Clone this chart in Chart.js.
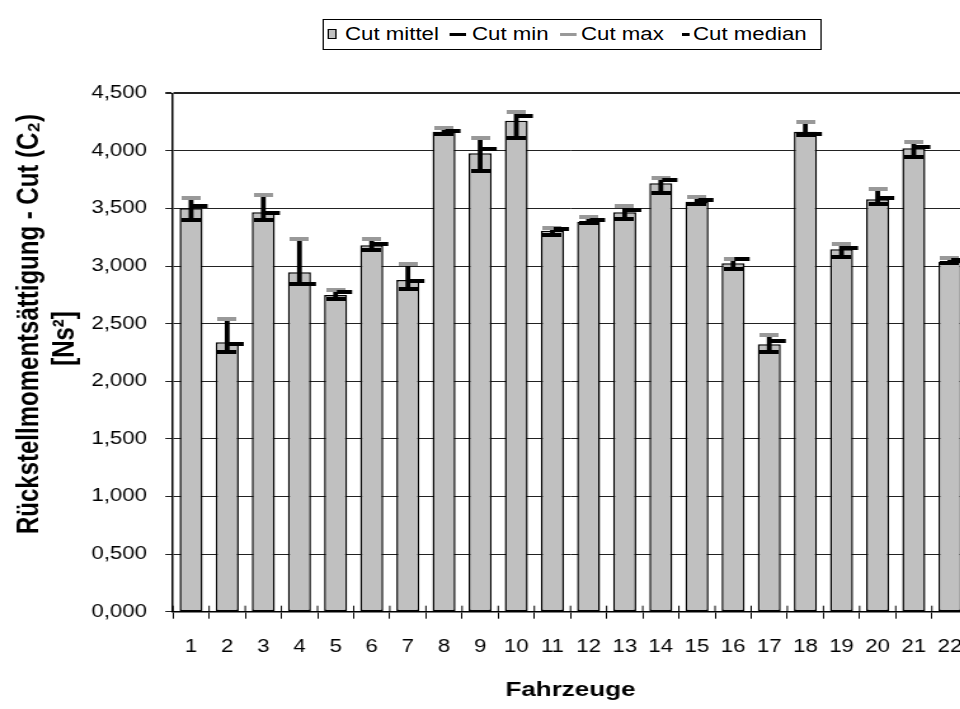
<!DOCTYPE html>
<html><head><meta charset="utf-8">
<script src="https://cdn.jsdelivr.net/npm/chart.js@4.4.0/dist/chart.umd.min.js"></script>
<style>
html,body{margin:0;padding:0;background:#fff;overflow:hidden;width:960px;height:709px;}
#wrap{position:absolute;left:0;top:0;width:790px;height:709px;transform:scale(1.27,1);transform-origin:0 0;}
#c{position:absolute;left:0;top:0;}
.lgt{position:absolute;font:17.5px "Liberation Sans",Arial,sans-serif;color:#000;line-height:20px;height:20px;white-space:nowrap;}
.lgm{position:absolute;box-sizing:border-box;}
#lgbox{position:absolute;box-sizing:border-box;border:1px solid #000;background:#fff;}
</style></head><body>
<div id="wrap">
<canvas id="c" width="790" height="709"></canvas>
<div id="lgbox"></div>
</div>
<script>
// ---- data ----
const categories = ['1','2','3','4','5','6','7','8','9','10','11','12','13','14','15','16','17','18','19','20','21','22'];
const seriesNames = ['Cut mittel','Cut min','Cut max','Cut median'];
const cutMittel = [3.502, 2.338, 3.467, 2.946, 2.749, 3.181, 2.879, 4.167, 3.979, 4.262, 3.307, 3.385, 3.467, 3.719, 3.559, 3.024, 2.321, 4.167, 3.146, 3.580, 4.023, 3.038];
const cutMin    = [3.398, 2.252, 3.398, 2.842, 2.712, 3.137, 2.804, 4.144, 3.828, 4.109, 3.267, 3.371, 3.409, 3.632, 3.539, 2.977, 2.255, 4.140, 3.079, 3.539, 3.950, 3.024];
const cutMax    = [3.589, 2.538, 3.617, 3.235, 2.792, 3.235, 3.016, 4.196, 4.109, 4.335, 3.333, 3.429, 3.522, 3.762, 3.603, 3.062, 2.402, 4.248, 3.189, 3.669, 4.077, 3.067];
const cutMedian = [3.522, 2.321, 3.458, 2.842, 2.775, 3.189, 2.871, 4.175, 4.016, 4.306, 3.319, 3.397, 3.490, 3.747, 3.574, 3.062, 2.350, 4.147, 3.157, 3.591, 4.031, 3.053];
const yTicks = [0, 0.5, 1, 1.5, 2, 2.5, 3, 3.5, 4, 4.5];
const xTitle = 'Fahrzeuge';
const yTitleLines = ['Rückstellmomentsättigung - Cut (C\u2082)', '[Ns\u00B2]'];

const FONT = '"Liberation Sans", Arial, sans-serif';
const cutRange = categories.map((_, i) => [cutMin[i], cutMax[i]]);

function dashImg(w, h, x0, x1, color) {
  const c = document.createElement('canvas');
  c.width = w; c.height = h;
  const g = c.getContext('2d');
  g.fillStyle = color;
  g.fillRect(x0, 0, x1 - x0, h);
  return c;
}
const minImg = dashImg(15, 4, 0, 15, '#000');
const maxImg = dashImg(15, 4, 0, 15, '#999');
const medImg = dashImg(28, 4, 15, 27, '#000');

const yTitlePlugin = {
  id: 'yTitle',
  afterDraw(chart) {
    const ctx = chart.ctx;
    ctx.save();
    ctx.font = 'bold 24px ' + FONT;
    ctx.fillStyle = '#000';
    ctx.textAlign = 'center';
    ctx.textBaseline = 'middle';
    const pos = [[23.6, 324], [51.2, 338.5]];
    yTitleLines.forEach((t, i) => {
      ctx.save();
      ctx.translate(pos[i][0], pos[i][1]);
      ctx.rotate(-Math.PI / 2);
      ctx.fillText(t, 0, 0);
      ctx.restore();
    });
    ctx.restore();
  }
};

// short tick marks above the x axis (category boundaries), so ticks cross the axis
const crossTicks = {
  id: 'crossTicks',
  afterDraw(chart) {
    const xs = chart.scales.x, ctx = chart.ctx;
    const n = categories.length, step = xs.width / n;
    ctx.save();
    ctx.strokeStyle = '#000';
    ctx.lineWidth = 1;
    ctx.beginPath();
    for (let i = 0; i <= n; i++) {
      const x = xs.left + i * step;
      ctx.moveTo(x, xs.top - 6);
      ctx.lineTo(x, xs.top);
    }
    ctx.stroke();
    ctx.restore();
  }
};

new Chart(document.getElementById('c'), {
  type: 'bar',
  data: {
    labels: categories,
    datasets: [
      {type: 'bar', label: seriesNames[0], data: cutMittel, backgroundColor: '#c0c0c0', borderColor: '#000', borderWidth: 1.5, borderSkipped: false, barPercentage: 0.637, categoryPercentage: 1, grouped: false, order: 5},
      {type: 'bar', label: 'range', data: cutRange, backgroundColor: '#000', borderWidth: 0, barThickness: 3.15, grouped: false, order: 4},
      {type: 'line', label: seriesNames[2], data: cutMax, showLine: false, pointStyle: maxImg, pointRadius: 3, order: 3},
      {type: 'line', label: seriesNames[1], data: cutMin, showLine: false, pointStyle: minImg, pointRadius: 3, order: 2},
      {type: 'line', label: seriesNames[3], data: cutMedian, showLine: false, pointStyle: medImg, pointRadius: 3, order: 1}
    ]
  },
  options: {
    responsive: false,
    animation: false,
    events: [],
    layout: {padding: {left: 0, right: 27.8, top: 93.3, bottom: 6.7}},
    plugins: {legend: {display: false}, tooltip: {enabled: false}},
    scales: {
      x: {
        offset: true,
        grid: {display: true, drawOnChartArea: false, drawTicks: true, tickLength: 7, color: '#000', lineWidth: 1, offset: true},
        border: {display: true, color: '#000', width: 1.5},
        ticks: {font: {size: 17.5, family: FONT}, color: '#000', padding: 17.8, maxRotation: 0, autoSkip: false},
        title: {display: true, text: xTitle, font: {size: 20.5, weight: 'bold', family: FONT}, color: '#000', padding: 0},
        afterFit: s => { s.height = 90.6; }
      },
      y: {
        min: 0, max: 4.5,
        afterBuildTicks: s => { s.ticks = yTicks.map(v => ({value: v})); },
        ticks: {font: {size: 17.5, family: FONT}, color: '#000', padding: 14.5, callback: v => Number(v).toFixed(3).replace('.', ',')},
        grid: {color: '#222', lineWidth: c => (c.tick && c.tick.value === 4.5 ? 2 : 1), tickLength: 6, drawTicks: true},
        border: {display: true, color: '#000', width: 1.5},
        afterFit: s => { s.width = 136.2; }
      }
    }
  },
  plugins: [yTitlePlugin, crossTicks]
});

// ---- legend (HTML, inside the stretched wrapper) ----
const wrap = document.getElementById('wrap');
const box = document.getElementById('lgbox');
Object.assign(box.style, {left: '253.5px', top: '19px', width: '393.7px', height: '31px'});
function addMarker(l, t, w, h, bg, border) {
  const d = document.createElement('div');
  d.className = 'lgm';
  Object.assign(d.style, {left: l + 'px', top: t + 'px', width: w + 'px', height: h + 'px', background: bg});
  if (border) d.style.border = border;
  wrap.appendChild(d);
}
function addText(l, txt) {
  const s = document.createElement('div');
  s.className = 'lgt';
  s.style.left = l + 'px';
  s.style.top = '24px';
  s.textContent = txt;
  wrap.appendChild(s);
}
addMarker(257.5, 29, 7.9, 10, '#c0c0c0', '1px solid #000');
addText(271.7, seriesNames[0]);
addMarker(354.3, 32.5, 12.6, 3, '#000');
addText(371.7, seriesNames[1]);
addMarker(441, 32.5, 12.5, 3, '#999');
addText(457.5, seriesNames[2]);
addMarker(537, 32.5, 5.5, 3, '#000');
addText(545.7, seriesNames[3]);
</script>
</body></html>
